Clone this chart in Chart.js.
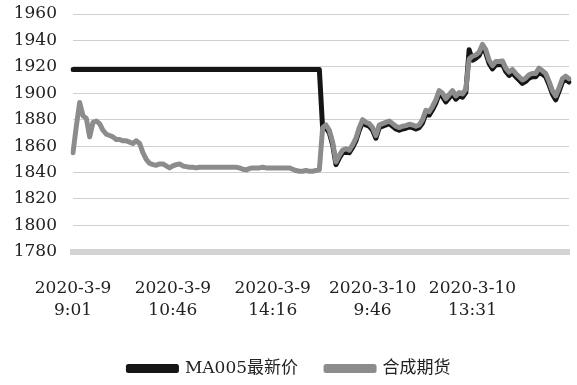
<!DOCTYPE html>
<html lang="zh">
<head>
    <meta charset="UTF-8">
    <title>MA005 vs 合成期货</title>
    <script src="https://cdn.jsdelivr.net/npm/chart.js"></script>
    <style>
        html, body { margin: 0; padding: 0; background: #fff; }
        #wrap { width: 577px; height: 385px; }
    </style>
</head>
<body>
    <div id="wrap"><canvas id="chart"></canvas></div>

    <script>
        // one point every 3 trading minutes, 2020-3-9 9:01 .. 2020-3-10 15:00
        const tickLabels = [
            ['2020-3-9', '9:01'],
            ['2020-3-9', '10:46'],
            ['2020-3-9', '14:16'],
            ['2020-3-10', '9:46'],
            ['2020-3-10', '13:31']
        ];
        const tickEvery = 30;

        const ma005 = [
            1918, 1918, 1918, 1918, 1918, 1918, 1918, 1918, 1918, 1918,
            1918, 1918, 1918, 1918, 1918, 1918, 1918, 1918, 1918, 1918,
            1918, 1918, 1918, 1918, 1918, 1918, 1918, 1918, 1918, 1918,
            1918, 1918, 1918, 1918, 1918, 1918, 1918, 1918, 1918, 1918,
            1918, 1918, 1918, 1918, 1918, 1918, 1918, 1918, 1918, 1918,
            1918, 1918, 1918, 1918, 1918, 1918, 1918, 1918, 1918, 1918,
            1918, 1918, 1918, 1918, 1918, 1918, 1918, 1918, 1918, 1918,
            1918, 1918, 1918, 1918, 1918,
            1873, 1874, 1870, 1861, 1846, 1851, 1855, 1856, 1855, 1859,
            1864, 1872, 1878, 1876, 1875, 1872, 1866, 1874, 1875, 1876,
            1877, 1875, 1873, 1872, 1873, 1873.5, 1874.5, 1874, 1873, 1874,
            1877.5, 1884.5, 1883.5, 1887.5, 1892.5, 1899.5, 1897.5, 1893.5, 1896.5, 1899.5,
            1895.5, 1898, 1897, 1900.5, 1933, 1925, 1926.5, 1928.5, 1934.5, 1930.5,
            1922.5, 1918.5, 1921.5, 1921.5, 1922, 1916.5, 1913.5, 1915.5, 1912.5, 1910,
            1907.5, 1909, 1911.5, 1912.5, 1912.5, 1915.5, 1914.5, 1912.5, 1906.5, 1899.5,
            1895, 1901.5, 1908.5, 1910.5, 1908.5
        ];

        const synthetic = [
            1855, 1875, 1893, 1883, 1881, 1867, 1878, 1879, 1877, 1872,
            1869, 1868, 1867, 1865, 1865, 1864, 1864, 1863, 1862, 1864,
            1862, 1855, 1850, 1847, 1846, 1845.5, 1846.5, 1846.5, 1845, 1843.5,
            1845, 1846, 1846.5, 1845, 1844.5, 1844, 1844, 1843.5, 1844, 1844,
            1844, 1844, 1844, 1844, 1844, 1844, 1844, 1844, 1844, 1844,
            1843.5, 1842.5, 1842, 1843, 1843.5, 1843.5, 1843.5, 1844, 1843.5, 1843.5,
            1843.5, 1843.5, 1843.5, 1843.5, 1843.5, 1843.5, 1842.5, 1841.5, 1841, 1841,
            1841.5, 1841, 1841, 1841.5, 1842,
            1874, 1876, 1872, 1863, 1848, 1853, 1857, 1858, 1857, 1861,
            1866, 1874, 1880, 1878, 1877, 1874, 1868, 1876, 1877, 1878,
            1879, 1877, 1875, 1874, 1875, 1875.5, 1876.5, 1876, 1875, 1876,
            1880, 1887, 1886, 1890, 1895, 1902, 1900, 1896, 1899, 1902,
            1898, 1900.5, 1899.5, 1903, 1926, 1928, 1929, 1931, 1937, 1933,
            1925, 1921, 1924, 1924, 1924.5, 1919, 1916, 1918, 1915, 1912.5,
            1910, 1911.5, 1914, 1915, 1915, 1919, 1917, 1915, 1909, 1902,
            1898, 1904, 1911, 1913, 1911
        ];

        const FONT = "'DejaVu Serif', 'Noto Sans CJK SC', serif";

        const ctx = document.getElementById('chart').getContext('2d');
        new Chart(ctx, {
            type: 'line',
            data: {
                labels: synthetic.map((v, i) => i),
                datasets: [
                    {
                        label: '合成期货',
                        data: synthetic,
                        borderColor: '#8c8c8c',
                        backgroundColor: '#8c8c8c',
                        borderWidth: 5
                    },
                    {
                        label: 'MA005最新价',
                        data: ma005,
                        borderColor: '#151515',
                        backgroundColor: '#151515',
                        borderWidth: 5
                    }
                ]
            },
            options: {
                responsive: true,
                maintainAspectRatio: false,
                animation: false,
                layout: { padding: { top: 14, right: 8, left: 10, bottom: -2 } },
                elements: {
                    point: { radius: 0 },
                    line: { tension: 0, borderJoinStyle: 'round', borderCapStyle: 'round' }
                },
                plugins: {
                    tooltip: { enabled: false },
                    legend: {
                        position: 'bottom',
                        reverse: true,
                        labels: {
                            boxWidth: 48,
                            boxHeight: 4,
                            padding: 28,
                            color: '#222',
                            font: { family: FONT, size: 17 }
                        }
                    }
                },
                scales: {
                    x: {
                        grid: { display: false },
                        border: { display: true, color: '#d3d3d3', width: 6, dash: [9, 3] },
                        afterFit: function(scale) { scale.height -= 8; },
                        ticks: {
                            autoSkip: false,
                            maxRotation: 0,
                            padding: 18,
                            color: '#222',
                            font: { family: FONT, size: 17, lineHeight: 1.3 },
                            callback: function(value, index) {
                                if (index % tickEvery !== 0) return null;
                                return tickLabels[index / tickEvery];
                            }
                        }
                    },
                    y: {
                        min: 1780,
                        max: 1960,
                        afterFit: function(scale) {
                            scale.width = 63;
                            scale.paddingTop = 0;
                        },
                        border: { display: false },
                        grid: { color: '#d0d0d0', lineWidth: 1, drawTicks: false },
                        ticks: {
                            stepSize: 20,
                            autoSkip: false,
                            padding: 16,
                            color: '#222',
                            font: { family: FONT, size: 17 },
                            callback: function(value) { return String(value); }
                        }
                    }
                }
            }
        });
    </script>
</body>
</html>
